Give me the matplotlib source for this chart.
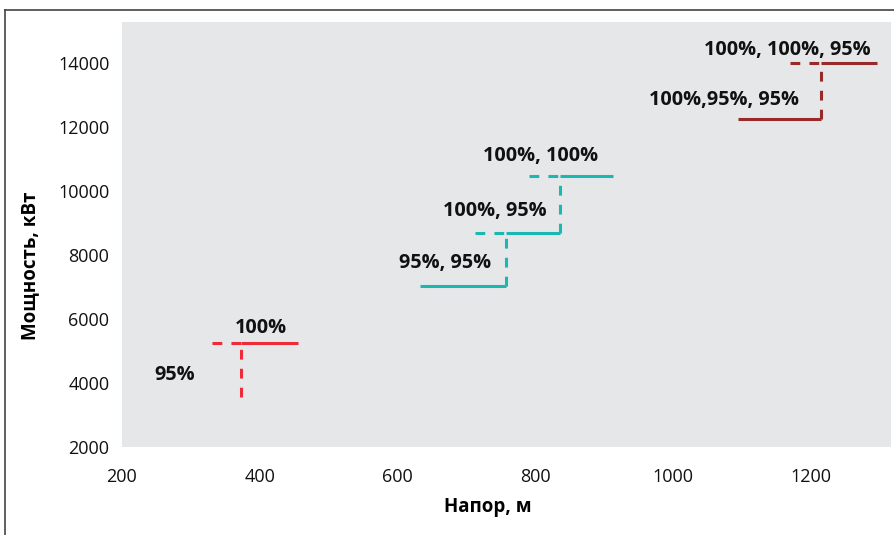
import matplotlib
matplotlib.use("Agg")
import matplotlib.pyplot as plt
from matplotlib.lines import Line2D

plt.rcParams['font.family'] = ['Open Sans', 'DejaVu Sans']

# ---- data ----
red_solid = ([373, 456], [5250, 5250])
red_lead = ([330, 373], [5250, 5250])
red_drop = ([373, 373], [3560, 5250])

cyan_solid_x = [[633, 757], [757, 835], [835, 912]]
cyan_solid_y = [[7030, 7030], [8690, 8690], [10470, 10470]]
cyan_lead_x = [[712, 757], [790, 835]]
cyan_lead_y = [[8690, 8690], [10470, 10470]]
cyan_rise_x = [[757, 757], [835, 835]]
cyan_rise_y = [[7030, 8690], [8690, 10470]]

dred_solid_x = [[1094, 1214], [1214, 1296]]
dred_solid_y = [[12250, 12250], [14000, 14000]]
dred_lead_x = [[1169, 1214]]
dred_lead_y = [[14000, 14000]]
dred_rise_x = [[1214, 1214]]
dred_rise_y = [[12250, 14000]]

labels = ["100%", "95%", "95%, 95%", "100%, 95%", "100%, 100%",
          "100%,95%, 95%", "100%, 100%, 95%"]
label_x = [402, 276, 669, 741, 808, 1074, 1165]
label_y = [5720, 4250, 7750, 9375, 11094, 12844, 14406]

xticks = [200, 400, 600, 800, 1000, 1200]
yticks = [2000, 4000, 6000, 8000, 10000, 12000, 14000]

RED = '#ee2b38'
CYAN = '#19b8b1'
DRED = '#9a2a2a'

fig = plt.figure(figsize=(8.95, 5.35), dpi=100)
ax = fig.add_axes([0.1363, 0.1645, 0.9955 - 0.1363, 0.9589 - 0.1645])
ax.set_facecolor('#e6e7e9')

lw = 2.2
dash = (0, (3.2, 3.0))

def solid(xs, ys, c):
    ax.plot(xs, ys, color=c, lw=lw, solid_capstyle='butt')

def dashed(xs, ys, c):
    ax.plot(xs, ys, color=c, lw=lw, linestyle=dash, dash_capstyle='butt')

solid(*red_solid, RED)
dashed(*red_lead, RED)
dashed(*red_drop, RED)

for xs, ys in zip(cyan_solid_x, cyan_solid_y):
    solid(xs, ys, CYAN)
for xs, ys in zip(cyan_lead_x, cyan_lead_y):
    dashed(xs, ys, CYAN)
for xs, ys in zip(cyan_rise_x, cyan_rise_y):
    dashed(xs, ys, CYAN)

for xs, ys in zip(dred_solid_x, dred_solid_y):
    solid(xs, ys, DRED)
for xs, ys in zip(dred_lead_x, dred_lead_y):
    dashed(xs, ys, DRED)
for xs, ys in zip(dred_rise_x, dred_rise_y):
    dashed(xs, ys, DRED)

for t, x, y in zip(labels, label_x, label_y):
    ax.text(x, y, t, ha='center', va='center', fontsize=14.3,
            fontweight='bold', color='#111111')

ax.set_xlim(200, 1316)
ax.set_ylim(2000, 15280)
ax.set_xticks(xticks)
ax.set_yticks(yticks)
ax.tick_params(length=0, labelsize=13, colors='#111111')
ax.tick_params(axis='x', pad=15)
ax.tick_params(axis='y', pad=9)
for s in ax.spines.values():
    s.set_visible(False)

ax.set_xlabel('Напор, м', fontsize=13.5, fontweight='bold', va='center')
ax.set_ylabel('Мощность, кВт', fontsize=13.5, fontweight='bold', va='center')
ax.xaxis.set_label_coords(0.476, -0.141)
ax.yaxis.set_label_coords(-0.119, 0.426)

# figure frame (top and left lines)
fig.add_artist(Line2D([5 / 895, 1.0], [1 - 10 / 535, 1 - 10 / 535],
                      transform=fig.transFigure, color='#444444', lw=1.2))
fig.add_artist(Line2D([5 / 895, 5 / 895], [0, 1 - 10 / 535],
                      transform=fig.transFigure, color='#444444', lw=1.2))

fig.savefig('out.png', dpi=100)
